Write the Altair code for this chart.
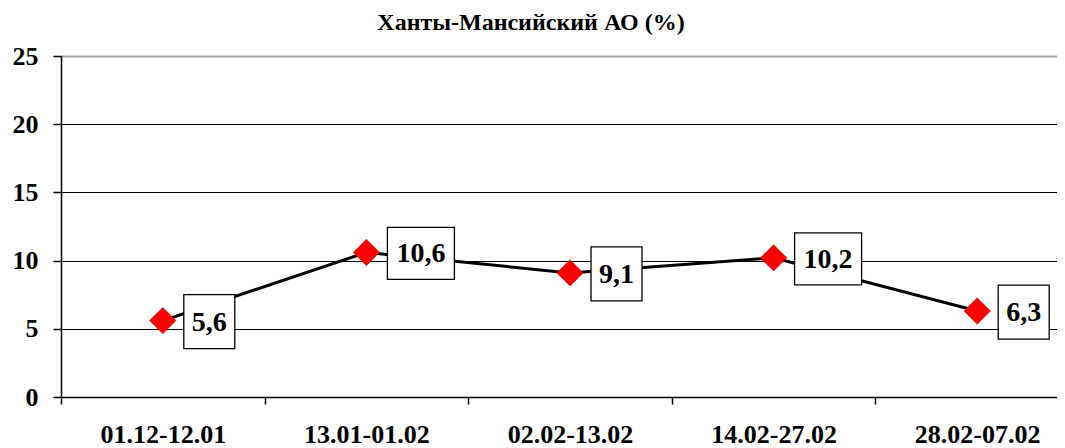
import altair as alt
import pandas as pd

categories = ["01.12-12.01", "13.01-01.02", "02.02-13.02", "14.02-27.02", "28.02-07.02"]
values = [5.6, 10.6, 9.1, 10.2, 6.3]
labels = ["5,6", "10,6", "9,1", "10,2", "6,3"]
y_ticks = [0, 5, 10, 15, 20, 25]

df = pd.DataFrame({"period": categories, "value": values, "label": labels})
df["nch"] = df["label"].str.len()

SERIF = "Liberation Serif, Times New Roman, serif"

x_enc = alt.X(
    "period:N",
    sort=categories,
    scale=alt.Scale(type="band", paddingInner=0, paddingOuter=0, range=[0, 1018]),
    axis=alt.Axis(
        title=None, labelAngle=0, tickBand="extent", tickSize=7, tickColor="black",
        tickWidth=1.5, domainColor="black", domainWidth=1.5, grid=False,
        labelFont=SERIF, labelFontWeight="bold", labelFontSize=26, labelColor="black",
        labelPadding=17,
    ),
)
y_enc = alt.Y(
    "value:Q",
    scale=alt.Scale(domain=[0, 25], nice=False, zero=True),
    axis=alt.Axis(
        title=None, values=y_ticks, grid=True,
        gridColor=alt.condition("datum.value == 25", alt.value("#a0a0a0"), alt.value("black")),
        gridWidth=alt.condition("datum.value == 25", alt.value(2), alt.value(1)),
        domainColor="black", domainWidth=1.5, tickColor="black", tickSize=8, tickWidth=1.5,
        labelFont=SERIF, labelFontWeight="bold", labelFontSize=26, labelColor="black",
        labelPadding=15,
    ),
)

base = alt.Chart(df).encode(x=x_enc, y=y_enc)

line = base.mark_line(color="black", strokeWidth=3)
pts = base.mark_point(shape="diamond", size=700, filled=True, fill="#ff0000",
                      stroke="#b00000", strokeWidth=0.5, opacity=1)

# label boxes: narrow (3 chars) and wide (4 chars)
w3, h3 = 51, 54
w4, h4 = 67, 52
gap = 21
path3 = "M{a},-1H{b}V1H{c}Z".format(a=-w3 / h3, b=w3 / h3, c=-w3 / h3)
path4 = "M{a},-1H{b}V1H{c}Z".format(a=-w4 / h4, b=w4 / h4, c=-w4 / h4)

box3 = base.transform_filter("datum.nch == 3").mark_point(
    shape=path3, size=h3 * h3, filled=True, fill="white", stroke="black",
    strokeWidth=1.3, opacity=1, xOffset=gap + w3 / 2, yOffset=1)
box4 = base.transform_filter("datum.nch == 4").mark_point(
    shape=path4, size=h4 * h4, filled=True, fill="white", stroke="black",
    strokeWidth=1.3, opacity=1, xOffset=gap + w4 / 2, yOffset=1)

txt3 = base.transform_filter("datum.nch == 3").mark_text(
    font=SERIF, fontWeight="bold", fontSize=28, color="black", align="center",
    baseline="middle", dx=gap + w3 / 2, dy=2).encode(text="label:N")
txt4 = base.transform_filter("datum.nch == 4").mark_text(
    font=SERIF, fontWeight="bold", fontSize=28, color="black", align="center",
    baseline="middle", dx=gap + w4 / 2, dy=2).encode(text="label:N")

chart = alt.layer(line, pts, box3, box4, txt3, txt4).properties(
    width=996,
    height=341,
    title=alt.TitleParams(
        "Ханты-Мансийский АО (%)", font=SERIF, fontSize=24, fontWeight="bold",
        color="black", anchor="middle", dx=-28, offset=8,
    ),
    autosize=alt.AutoSizeParams(type="none"),
    padding={"left": 53, "top": 48, "right": 0, "bottom": 51},
).configure_view(stroke=None).configure(background="white")

chart.save("out.html", embed_options={"renderer": "svg", "actions": False})
